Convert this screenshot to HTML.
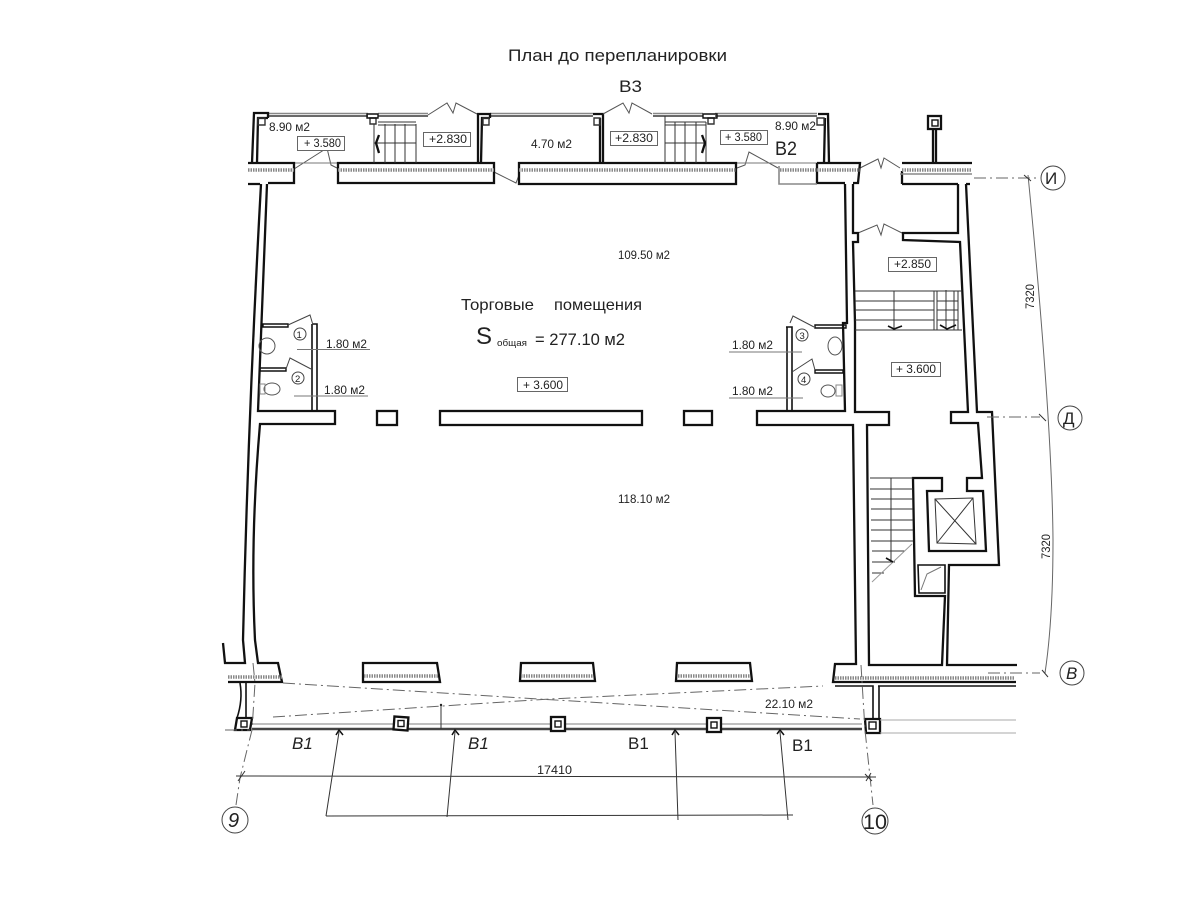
<!DOCTYPE html>
<html lang="ru"><head><meta charset="utf-8"><title>План до перепланировки</title>
<style>
html,body{margin:0;padding:0;background:#fff}
svg{display:block;filter:blur(.35px)}
text{font-family:"Liberation Sans",sans-serif;fill:#222}
.w{fill:none;stroke:#111;stroke-width:2.3}
.t{fill:none;stroke:#333;stroke-width:1}
.l{fill:none;stroke:#777;stroke-width:1}
.h{fill:none;stroke:#888;stroke-width:3.5;stroke-dasharray:1.5 1}
.c{fill:none;stroke:#888;stroke-width:1.6}
.cw{fill:none;stroke:#555;stroke-width:1.8}
.d{fill:none;stroke:#666;stroke-width:1;stroke-dasharray:12 4 2 4}
.b{fill:#fff;stroke:#666;stroke-width:1}
.s{font-size:11.5px}
.m{font-size:12px}
.i{font-size:17px;font-style:italic}
</style></head><body>
<svg width="1200" height="900" viewBox="0 0 1200 900" xmlns="http://www.w3.org/2000/svg">
<text x="508" y="61" font-size="16.5" textLength="219" lengthAdjust="spacingAndGlyphs">План до перепланировки</text>
<text x="619" y="92" font-size="17" textLength="23" lengthAdjust="spacingAndGlyphs">В3</text>
<text x="775" y="155" font-size="19" textLength="22" lengthAdjust="spacingAndGlyphs">В2</text>

<!-- top curtain -->
<path class="c" d="M268 113.500H368M378 113.500H428M490 113.500H593M653 113.500H703M715 113.500H817"/>
<path class="cw" d="M268 116H368M378 116H428M490 116H593M653 116H703M715 116H817"/>
<!-- top walls/columns -->
<path class="w" d="M252 163L254 113H268V118M257 163L258 118H268M478 163V114H490V118M481 163L482 118H490M593 114H603V163M600 163V118M818 114H828L829 163M824 163L825 118"/>
<path class="t" style="stroke-width:1.4" d="M258 118H265V125H258ZM370 118H376V124H370ZM483 118H489V125H483ZM594 118H600V125H594ZM708 118H714V124H708ZM817 118H824V125H817Z"/>
<path class="w" style="stroke-width:1.4" d="M367 114H378V118H367ZM703 114H717V118H703Z"/>
<!-- doors -->
<path class="l" style="stroke:#555" d="M428 115L447 103L453 113L456 103L477 114M603 114L623 103L629 113L632 103L652 114M294 169L327 148L331 165L337 168M494 172L516 183L519 175M737 168L745 165L749 152L778 168M860 168L878 159L881 168L884 158L900 168M858 233L877 225L881 235L884 224L902 233"/>
<path class="l" d="M294 163H337M737 163H817"/>
<!-- top band of walls -->
<path class="w" d="M248 163H294V183H268M248 184H260M338 183V163H494V183ZM519 184V163H736V184H519ZM817 163H860L858 183H853M817 163V183H845M902 163H972M902 184V171M902 184H958M966 184H970"/>
<path class="h" d="M248 170H294M338 170H494M519 170H736M780 170H817M817 170H860M902 170H972"/>
<path class="c" d="M779 166V184H817M900 174H972"/>
<!-- stairs in the top rooms -->
<path class="t" d="M374 124V163M385 124V163M395 124V163M405 124V163M416 124V163M378 122H416M378 125H416M374 143H416M665 116V163M675 122V163M685 122V163M696 122V163M706 122V163M665 122H706M665 125H706M665 143H705"/>
<path class="w" d="M379 135L376 143L379 153M702 135L705 143L702 153"/>

<!-- column top right -->
<rect x="928" y="116" width="13" height="13" fill="none" stroke="#111" stroke-width="2.300"/>
<rect x="932" y="120" width="6" height="6" fill="none" stroke="#111" stroke-width="1.400"/>
<path class="w" d="M933 129V163M936 129V163"/>

<!-- main walls left -->
<path class="w" d="M261 184Q248 420 243 640L245 663H225L223 643M267 184L258 411H335V424H260Q250 540 255 640L258 663H278L282 682H228"/>
<path class="h" d="M228 677H282"/>
<path class="w" style="stroke-width:1.6" d="M240 683Q243 700 237 718M246 683V718"/>
<path class="w" d="M237 718H252L250 730H235Z"/>
<rect x="241" y="721" width="6" height="6" fill="none" stroke="#111" stroke-width="1.400"/>

<!-- main walls right -->
<path class="w" d="M845 184L847 323H843L845 411H757V425H853L856 664H835L833 682H1016M853 184V233L858 233V242L853 242L855 323V412H889V425H867L869 665H942L945 596H915L913 478H942V491H927L929 551H986L983 491H967V478H982L978 423H951V412H968L960 242L903 240V233H958V184M966 184L977 412H992L999 565H949L947 665H1017"/>
<path class="h" d="M835 678H1015"/>
<path class="w" style="stroke-width:1.6" d="M835 686H873V718M878 686H1016M879 686V720"/>
<path class="w" d="M865 719H880V733H866Z"/>
<rect x="869" y="722" width="7" height="7" fill="none" stroke="#111" stroke-width="1.400"/>
<path class="l" style="stroke:#aaa" d="M880 720H1016M880 733H1016"/>

<!-- pillars main -->
<rect x="377" y="411" width="20" height="14" fill="none" stroke="#111" stroke-width="2.300"/>
<rect x="440" y="411" width="202" height="14" fill="none" stroke="#111" stroke-width="2.300"/>
<rect x="684" y="411" width="28" height="14" fill="none" stroke="#111" stroke-width="2.300"/>

<!-- bathrooms left -->
<path class="w" style="stroke-width:1.4" d="M263 324H288V327H263ZM260 368H286V371H260Z"/>
<path class="w" style="stroke-width:1.6" d="M313 324H317V411M312 411V324"/>
<path class="l" style="stroke:#444" d="M288 325L310 315L313 325M286 369L290 358L311 369"/>
<circle cx="300" cy="334" r="6" fill="none" stroke="#444"/>
<circle cx="298" cy="378" r="6" fill="none" stroke="#444"/>
<text x="296.500" y="338" font-size="9.500">1</text><text x="295" y="382" font-size="9.500">2</text>
<ellipse cx="267" cy="346" rx="8" ry="8" fill="none" stroke="#555"/>
<ellipse cx="272" cy="389" rx="8" ry="6" fill="none" stroke="#555"/>
<rect x="260" y="384" width="5" height="10" fill="none" stroke="#888"/>
<path class="l" d="M297 349.500H370M294 396H368"/>
<text class="m" x="326" y="348" textLength="41" lengthAdjust="spacingAndGlyphs">1.80 м2</text>
<text class="m" x="324" y="394" textLength="41" lengthAdjust="spacingAndGlyphs">1.80 м2</text>
<!-- bathrooms right -->
<path class="w" style="stroke-width:1.4" d="M815 325H846V328H815ZM815 370H843V373H815Z"/>
<path class="w" style="stroke-width:1.6" d="M786 327H792V412M787 411V327"/>
<path class="l" style="stroke:#444" d="M814 327L793 316L790 323M815 370L812 359L792 372"/>
<circle cx="802" cy="335" r="6" fill="none" stroke="#444"/>
<circle cx="804" cy="379" r="6" fill="none" stroke="#444"/>
<text x="799.500" y="339" font-size="9.500">3</text><text x="801" y="383" font-size="9.500">4</text>
<ellipse cx="835" cy="346" rx="7" ry="9" fill="none" stroke="#555"/>
<ellipse cx="828" cy="391" rx="7" ry="6" fill="none" stroke="#555"/>
<rect x="836" y="385" width="6" height="11" fill="none" stroke="#888"/>
<path class="l" d="M729 352H802M729 398H803"/>
<text class="m" x="732" y="349" textLength="41" lengthAdjust="spacingAndGlyphs">1.80 м2</text>
<text class="m" x="732" y="395" textLength="41" lengthAdjust="spacingAndGlyphs">1.80 м2</text>

<!-- stairs right upper -->
<path class="t" d="M855 291H962M855 301H934M855 310H934M855 320H934M855 330H962M934 291V330M937 291V330M954 291V330M958 291V330M937 301H958M937 310H958M937 320H958"/>
<path class="t" d="M894 291V328M946 290V328"/>
<path class="w" style="stroke-width:1.6" d="M888 326L894 329L902 326M940 325L947 329L956 325"/>
<!-- stairs right lower -->
<path class="t" d="M870 478H913M870 489H913M871 499H913M871 509H913M871 520H913M871 530H913M871 541H913M872 551H905M872 562H895M872 573H884M891 478V560"/>
<path class="l" style="stroke:#999" d="M912 544L872 582"/>
<path class="w" style="stroke-width:1.6" d="M886 558L893 562"/>
<!-- lift -->
<path class="t" d="M935 499L973 498L976 544L937 543ZM935 499L976 544M973 498L937 543"/>
<path class="w" style="stroke-width:1.6" d="M918 565H945V593H919Z"/>
<path class="l" d="M921 590L927 574L941 567"/>

<!-- bottom windows -->
<g>
<path class="w" d="M363 682V663H437L440 682H363Z"/><path class="h" d="M364 676H438"/>
<path class="w" d="M520 681L521 663H593L595 681Z"/><path class="h" d="M521 676H593"/>
<path class="w" d="M676 681L677 663H750L752 681Z"/><path class="h" d="M678 676H750"/>
</g>
<!-- curtain bottom -->
<path class="c" style="stroke:#aaa" d="M252 724H393M408 724H550M566 724H706M722 724H862"/>
<path class="cw" style="stroke-width:2.400;stroke:#444" d="M252 729H393M408 729H550M566 729H706M722 729H862"/>
<rect x="394" y="717" width="14" height="13" transform="rotate(4 401 723)" fill="#fff" stroke="#111" stroke-width="2.300"/>
<rect x="398" y="720.500" width="6" height="6" fill="none" stroke="#111" stroke-width="1.400"/>
<rect x="551" y="717" width="14" height="14" fill="#fff" stroke="#111" stroke-width="2.300"/>
<rect x="555" y="721" width="6" height="6" fill="none" stroke="#111" stroke-width="1.400"/>
<rect x="707" y="718" width="14" height="14" fill="#fff" stroke="#111" stroke-width="2.300"/>
<rect x="711" y="722" width="6" height="6" fill="none" stroke="#111" stroke-width="1.400"/>
<path class="t" d="M441 705V729"/>
<circle cx="441" cy="705" r="1.200" fill="#222"/>
<!-- dash-dot -->
<path class="d" d="M283 683L860 719M273 717L550 699L823 686"/>
<path class="d" d="M253 663L255 683L252 730L240 778L236 805M861 665L865 730L873 805M225 730H250"/>
<!-- dimensions -->
<path class="t" d="M236 776L876 777M326 816L793 815M326 816L339 732M447 817L455 732M678 820L675 732M788 820L780 732"/>
<path class="w" style="stroke-width:1.500" d="M336 735L339 730L343 735M452 735L455 730L459 735M672 735L675 730L679 735M777 734L780 730L784 735"/>
<path class="t" d="M238 781L245 771M865 774L872 781M866 781L871 773"/>
<circle cx="235" cy="820" r="13" fill="#fff" stroke="#444"/>
<text x="228" y="827" font-size="20" font-style="italic">9</text>
<circle cx="875" cy="821" r="13" fill="#fff" stroke="#444"/>
<text x="863" y="829" font-size="21" textLength="24" lengthAdjust="spacingAndGlyphs">10</text>
<text class="i" x="292" y="749">В1</text><text class="i" x="468" y="749">В1</text>
<text x="628" y="749" font-size="17">В1</text><text x="792" y="751" font-size="17">В1</text>
<text class="m" x="537" y="774" textLength="35" lengthAdjust="spacingAndGlyphs">17410</text>
<text class="m" x="765" y="708" textLength="48" lengthAdjust="spacingAndGlyphs">22.10 м2</text>
<!-- right axis -->
<path class="t" style="stroke:#666" d="M1028 175Q1052 420 1053 540Q1053 620 1045 673"/>
<path class="d" d="M974 178H1040M987 417H1040M988 673H1040"/>
<path class="t" d="M1024 175L1031 181M1039 414L1046 421M1042 670L1048 677"/>
<circle cx="1053" cy="178" r="12" fill="#fff" stroke="#444"/>
<text x="1045" y="184" font-size="17">И</text>
<circle cx="1070" cy="418" r="12" fill="#fff" stroke="#444"/>
<text x="1063" y="424" font-size="17">Д</text>
<circle cx="1072" cy="673" r="12" fill="#fff" stroke="#444"/>
<text x="1066" y="679" font-size="17" font-style="italic">В</text>
<text class="m" transform="translate(1034 309) rotate(-90)" textLength="25" lengthAdjust="spacingAndGlyphs">7320</text>
<text class="m" transform="translate(1050 559) rotate(-90)" textLength="25" lengthAdjust="spacingAndGlyphs">7320</text>

<!-- labels -->
<text class="s" x="269" y="131" textLength="41" lengthAdjust="spacingAndGlyphs">8.90 м2</text>
<text class="s" x="775" y="130" textLength="41" lengthAdjust="spacingAndGlyphs">8.90 м2</text>
<text class="s" x="531" y="148" textLength="41" lengthAdjust="spacingAndGlyphs">4.70 м2</text>
<g>
<rect class="b" x="297.500" y="136.500" width="47" height="14"/><text class="m" x="304" y="147" textLength="37" lengthAdjust="spacingAndGlyphs">+ 3.580</text>
<rect class="b" x="423.500" y="132.500" width="47" height="14"/><text class="m" x="429" y="143" textLength="38" lengthAdjust="spacingAndGlyphs">+2.830</text>
<rect class="b" x="610.500" y="131.500" width="47" height="14"/><text class="m" x="615" y="142" textLength="38" lengthAdjust="spacingAndGlyphs">+2.830</text>
<rect class="b" x="720.500" y="130.500" width="47" height="14"/><text class="m" x="725" y="141" textLength="37" lengthAdjust="spacingAndGlyphs">+ 3.580</text>
<rect class="b" x="888.500" y="257.500" width="48" height="14"/><text class="m" x="894" y="268" textLength="37" lengthAdjust="spacingAndGlyphs">+2.850</text>
<rect class="b" x="891.500" y="362.500" width="49" height="14"/><text class="m" x="896" y="373" textLength="40" lengthAdjust="spacingAndGlyphs">+ 3.600</text>
<rect class="b" x="517.500" y="377.500" width="50" height="14"/><text class="m" x="523" y="389" textLength="40" lengthAdjust="spacingAndGlyphs">+ 3.600</text>
</g>
<text class="s" x="618" y="259" textLength="52" lengthAdjust="spacingAndGlyphs">109.50 м2</text>
<text class="s" x="618" y="503" textLength="52" lengthAdjust="spacingAndGlyphs">118.10 м2</text>
<text x="461" y="310" font-size="16" textLength="73" lengthAdjust="spacingAndGlyphs">Торговые</text>
<text x="554" y="310" font-size="16" textLength="88" lengthAdjust="spacingAndGlyphs">помещения</text>
<text x="476" y="344" font-size="24">S</text>
<text x="497" y="346" font-size="9" textLength="30" lengthAdjust="spacingAndGlyphs">общая</text>
<text x="535" y="345" font-size="16.500" textLength="90" lengthAdjust="spacingAndGlyphs">= 277.10 м2</text>
</svg>
</body></html>
